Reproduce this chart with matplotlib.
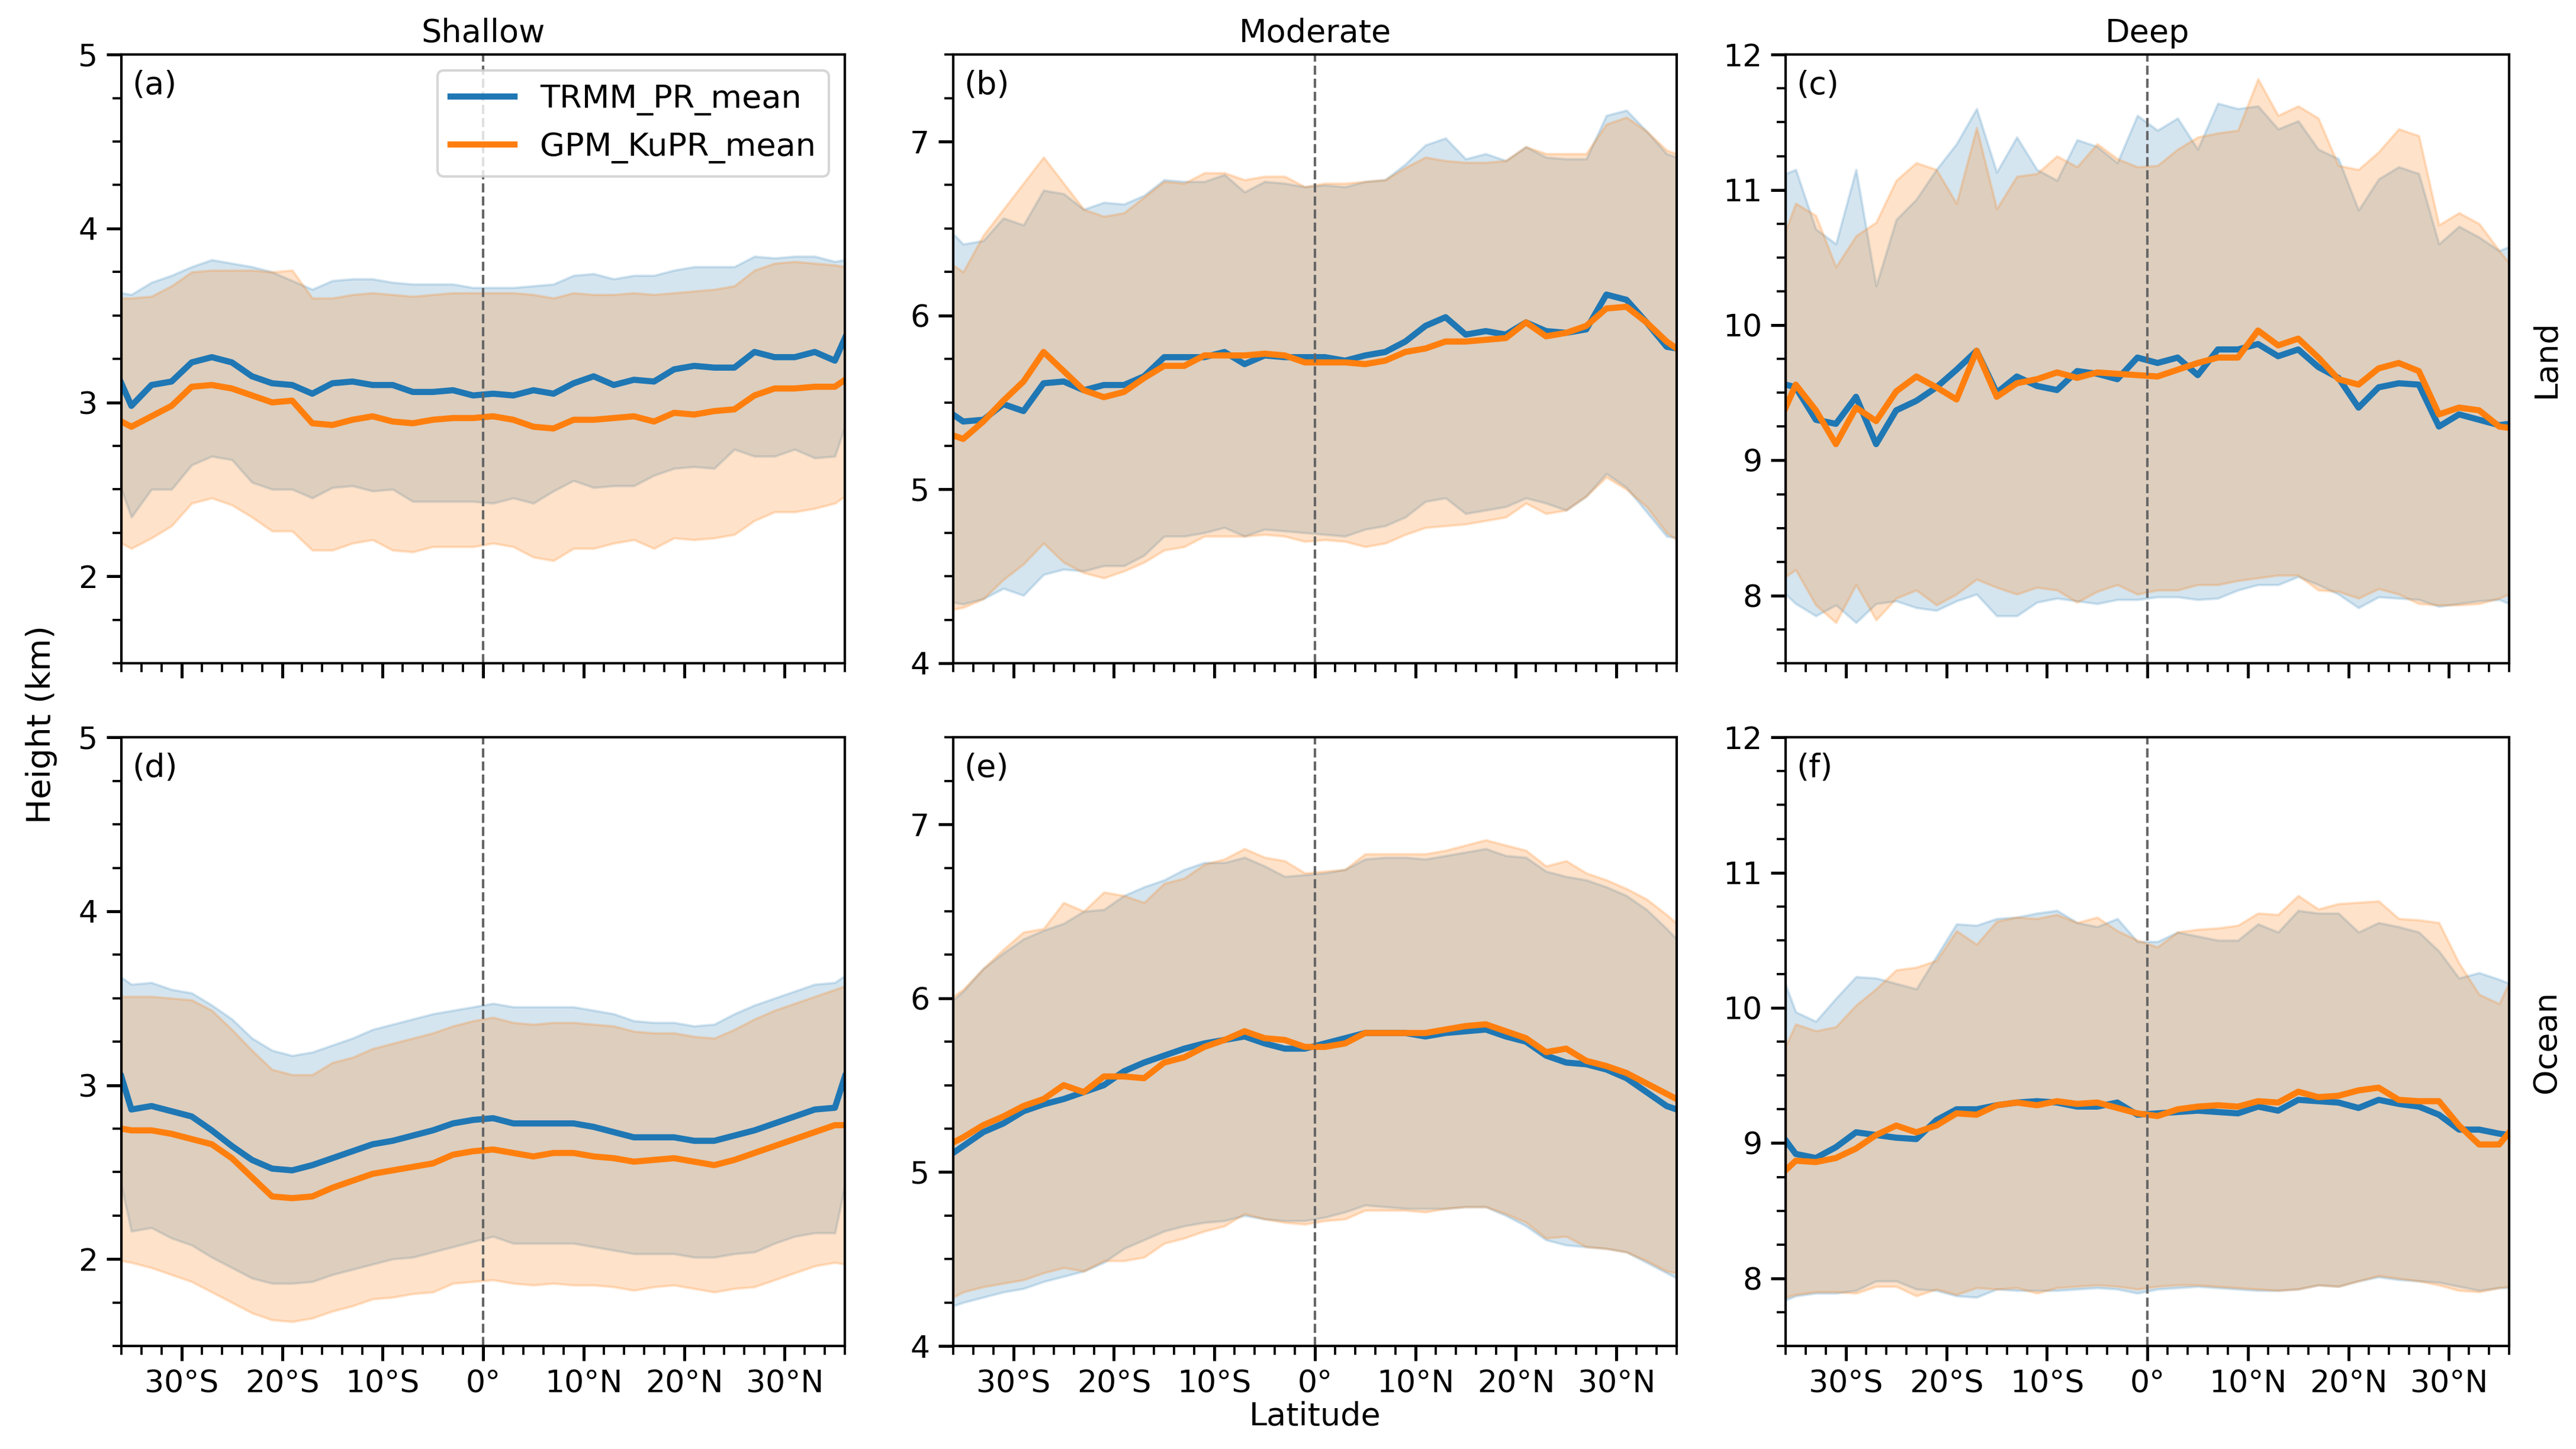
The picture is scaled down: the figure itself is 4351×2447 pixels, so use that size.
import matplotlib
matplotlib.use("Agg")
import matplotlib.pyplot as plt
from matplotlib.ticker import MultipleLocator, FixedLocator

plt.rcParams['font.family'] = ['DejaVu Sans']

# latitude centres (deg), negative = south
lat = [-36, -35, -33, -31, -29, -27, -25, -23, -21, -19, -17, -15, -13, -11, -9, -7, -5, -3, -1,
       1, 3, 5, 7, 9, 11, 13, 15, 17, 19, 21, 23, 25, 27, 29, 31, 33, 35, 36]

# (a) shallow / land
trmm_a_mean = [3.11, 2.98, 3.10, 3.12, 3.23, 3.26, 3.23, 3.15, 3.11, 3.10, 3.05, 3.11, 3.12, 3.10, 3.10, 3.06, 3.06, 3.07, 3.04,
               3.05, 3.04, 3.07, 3.05, 3.11, 3.15, 3.10, 3.13, 3.12, 3.19, 3.21, 3.20, 3.20, 3.29, 3.26, 3.26, 3.29, 3.24, 3.37]
gpm_a_mean = [2.89, 2.86, 2.92, 2.98, 3.09, 3.10, 3.08, 3.04, 3.00, 3.01, 2.88, 2.87, 2.90, 2.92, 2.89, 2.88, 2.90, 2.91, 2.91,
              2.92, 2.90, 2.86, 2.85, 2.90, 2.90, 2.91, 2.92, 2.89, 2.94, 2.93, 2.95, 2.96, 3.04, 3.08, 3.08, 3.09, 3.09, 3.13]
trmm_a_hi = [3.63, 3.62, 3.69, 3.73, 3.78, 3.82, 3.80, 3.78, 3.75, 3.70, 3.65, 3.70, 3.71, 3.71, 3.69, 3.68, 3.68, 3.68, 3.66,
             3.66, 3.66, 3.67, 3.68, 3.73, 3.74, 3.71, 3.73, 3.73, 3.76, 3.78, 3.78, 3.78, 3.84, 3.83, 3.84, 3.84, 3.81, 3.82]
gpm_a_hi = [3.60, 3.60, 3.61, 3.67, 3.75, 3.76, 3.76, 3.76, 3.75, 3.76, 3.60, 3.60, 3.62, 3.63, 3.62, 3.61, 3.62, 3.63, 3.63,
            3.63, 3.63, 3.62, 3.60, 3.63, 3.62, 3.62, 3.63, 3.62, 3.63, 3.64, 3.65, 3.67, 3.76, 3.80, 3.81, 3.80, 3.79, 3.78]
trmm_a_lo = [2.50, 2.34, 2.50, 2.50, 2.64, 2.69, 2.67, 2.54, 2.50, 2.50, 2.45, 2.51, 2.52, 2.49, 2.50, 2.43, 2.43, 2.43, 2.43,
             2.42, 2.45, 2.42, 2.49, 2.55, 2.51, 2.52, 2.52, 2.58, 2.62, 2.63, 2.62, 2.73, 2.69, 2.69, 2.73, 2.68, 2.69, 2.86]
gpm_a_lo = [2.19, 2.16, 2.22, 2.29, 2.42, 2.45, 2.41, 2.34, 2.26, 2.26, 2.15, 2.15, 2.19, 2.21, 2.15, 2.14, 2.17, 2.17, 2.17,
            2.19, 2.17, 2.11, 2.09, 2.16, 2.16, 2.19, 2.21, 2.16, 2.22, 2.21, 2.22, 2.24, 2.32, 2.37, 2.37, 2.39, 2.42, 2.46]

# (b) moderate / land
trmm_b_mean = [5.43, 5.39, 5.40, 5.49, 5.45, 5.61, 5.62, 5.57, 5.60, 5.60, 5.65, 5.76, 5.76, 5.76, 5.79, 5.72, 5.77, 5.76, 5.76,
               5.76, 5.74, 5.77, 5.79, 5.85, 5.94, 5.99, 5.89, 5.91, 5.89, 5.96, 5.91, 5.90, 5.92, 6.12, 6.09, 5.96, 5.82, 5.81]
gpm_b_mean = [5.31, 5.29, 5.39, 5.51, 5.62, 5.79, 5.68, 5.57, 5.53, 5.56, 5.64, 5.71, 5.71, 5.77, 5.77, 5.77, 5.78, 5.77, 5.73,
              5.73, 5.73, 5.72, 5.74, 5.79, 5.81, 5.85, 5.85, 5.86, 5.87, 5.96, 5.88, 5.90, 5.94, 6.04, 6.05, 5.96, 5.85, 5.81]
trmm_b_hi = [6.47, 6.41, 6.43, 6.56, 6.52, 6.72, 6.70, 6.61, 6.65, 6.64, 6.69, 6.78, 6.77, 6.77, 6.81, 6.71, 6.77, 6.76, 6.74,
             6.75, 6.74, 6.77, 6.78, 6.87, 6.98, 7.02, 6.90, 6.93, 6.89, 6.97, 6.91, 6.90, 6.90, 7.15, 7.18, 7.06, 6.93, 6.91]
gpm_b_hi = [6.29, 6.25, 6.46, 6.61, 6.76, 6.91, 6.76, 6.61, 6.57, 6.59, 6.68, 6.77, 6.76, 6.82, 6.82, 6.78, 6.80, 6.80, 6.74,
            6.76, 6.76, 6.77, 6.78, 6.85, 6.91, 6.89, 6.88, 6.88, 6.89, 6.97, 6.93, 6.93, 6.93, 7.10, 7.14, 7.06, 6.95, 6.93]
trmm_b_lo = [4.35, 4.34, 4.37, 4.43, 4.39, 4.51, 4.54, 4.53, 4.56, 4.56, 4.62, 4.73, 4.73, 4.75, 4.78, 4.73, 4.77, 4.76, 4.75,
             4.74, 4.73, 4.77, 4.79, 4.84, 4.93, 4.95, 4.86, 4.88, 4.90, 4.95, 4.92, 4.88, 4.96, 5.09, 5.01, 4.87, 4.73, 4.72]
gpm_b_lo = [4.31, 4.32, 4.37, 4.48, 4.57, 4.69, 4.58, 4.52, 4.49, 4.53, 4.58, 4.65, 4.67, 4.73, 4.73, 4.73, 4.74, 4.73, 4.70,
            4.71, 4.70, 4.67, 4.69, 4.74, 4.78, 4.79, 4.80, 4.82, 4.84, 4.92, 4.86, 4.88, 4.96, 5.07, 5.00, 4.90, 4.75, 4.71]

# (c) deep / land
trmm_c_mean = [9.56, 9.54, 9.30, 9.27, 9.47, 9.12, 9.37, 9.44, 9.54, 9.67, 9.81, 9.50, 9.62, 9.55, 9.52, 9.66, 9.64, 9.60, 9.76,
               9.72, 9.76, 9.63, 9.82, 9.82, 9.86, 9.77, 9.82, 9.69, 9.61, 9.39, 9.54, 9.57, 9.56, 9.25, 9.34, 9.30, 9.26, 9.27]
gpm_c_mean = [9.39, 9.56, 9.37, 9.12, 9.39, 9.29, 9.51, 9.62, 9.54, 9.45, 9.81, 9.47, 9.57, 9.60, 9.65, 9.61, 9.65, 9.64, 9.63,
              9.62, 9.67, 9.72, 9.76, 9.76, 9.96, 9.85, 9.90, 9.76, 9.60, 9.56, 9.68, 9.72, 9.66, 9.34, 9.39, 9.37, 9.25, 9.24]
trmm_c_hi = [11.12, 11.15, 10.71, 10.60, 11.15, 10.29, 10.78, 10.93, 11.15, 11.34, 11.60, 11.13, 11.39, 11.15, 11.07, 11.37, 11.32, 11.20, 11.55,
             11.44, 11.53, 11.30, 11.64, 11.60, 11.62, 11.45, 11.51, 11.30, 11.23, 10.85, 11.08, 11.17, 11.12, 10.60, 10.73, 10.65, 10.55, 10.58]
gpm_c_hi = [10.70, 10.90, 10.81, 10.43, 10.66, 10.76, 11.07, 11.20, 11.15, 10.90, 11.46, 10.86, 11.10, 11.12, 11.25, 11.17, 11.34, 11.23, 11.17,
            11.18, 11.30, 11.39, 11.42, 11.44, 11.82, 11.55, 11.62, 11.53, 11.18, 11.15, 11.28, 11.45, 11.40, 10.74, 10.83, 10.75, 10.55, 10.46]
trmm_c_lo = [8.01, 7.94, 7.85, 7.93, 7.80, 7.94, 7.96, 7.91, 7.89, 7.96, 8.01, 7.85, 7.85, 7.95, 7.98, 7.96, 7.94, 7.97, 7.97,
             7.99, 7.99, 7.97, 7.98, 8.04, 8.08, 8.08, 8.14, 8.08, 8.01, 7.91, 7.99, 7.98, 7.97, 7.92, 7.94, 7.96, 7.97, 7.94]
gpm_c_lo = [8.14, 8.19, 7.93, 7.80, 8.08, 7.82, 7.98, 8.04, 7.93, 8.01, 8.12, 8.06, 8.01, 8.06, 8.04, 7.95, 8.03, 8.08, 8.01,
            8.04, 8.04, 8.08, 8.08, 8.11, 8.13, 8.15, 8.15, 8.04, 8.03, 7.98, 8.05, 8.01, 7.94, 7.93, 7.93, 7.94, 7.98, 8.01]

# (d) shallow / ocean
trmm_d_mean = [3.05, 2.86, 2.88, 2.85, 2.82, 2.74, 2.65, 2.57, 2.52, 2.51, 2.54, 2.58, 2.62, 2.66, 2.68, 2.71, 2.74, 2.78, 2.80,
               2.81, 2.78, 2.78, 2.78, 2.78, 2.76, 2.73, 2.70, 2.70, 2.70, 2.68, 2.68, 2.71, 2.74, 2.78, 2.82, 2.86, 2.87, 3.05]
gpm_d_mean = [2.75, 2.74, 2.74, 2.72, 2.69, 2.66, 2.58, 2.47, 2.36, 2.35, 2.36, 2.41, 2.45, 2.49, 2.51, 2.53, 2.55, 2.60, 2.62,
              2.63, 2.61, 2.59, 2.61, 2.61, 2.59, 2.58, 2.56, 2.57, 2.58, 2.56, 2.54, 2.57, 2.61, 2.65, 2.69, 2.73, 2.77, 2.77]
trmm_d_hi = [3.62, 3.58, 3.59, 3.55, 3.53, 3.46, 3.38, 3.27, 3.20, 3.17, 3.19, 3.23, 3.27, 3.32, 3.35, 3.38, 3.41, 3.43, 3.45,
             3.47, 3.45, 3.45, 3.45, 3.45, 3.43, 3.41, 3.37, 3.36, 3.36, 3.34, 3.35, 3.41, 3.46, 3.50, 3.54, 3.58, 3.59, 3.63]
gpm_d_hi = [3.51, 3.51, 3.51, 3.50, 3.49, 3.43, 3.32, 3.20, 3.09, 3.06, 3.06, 3.13, 3.16, 3.21, 3.24, 3.27, 3.30, 3.34, 3.37,
            3.39, 3.36, 3.35, 3.36, 3.36, 3.35, 3.34, 3.31, 3.30, 3.30, 3.28, 3.27, 3.32, 3.38, 3.43, 3.47, 3.51, 3.55, 3.57]
trmm_d_lo = [2.42, 2.16, 2.18, 2.12, 2.08, 2.01, 1.95, 1.89, 1.86, 1.86, 1.87, 1.91, 1.94, 1.97, 2.00, 2.01, 2.04, 2.07, 2.10,
             2.13, 2.09, 2.09, 2.09, 2.09, 2.07, 2.05, 2.03, 2.03, 2.03, 2.01, 2.01, 2.03, 2.04, 2.09, 2.13, 2.15, 2.15, 2.42]
gpm_d_lo = [1.99, 1.98, 1.95, 1.91, 1.87, 1.81, 1.75, 1.69, 1.65, 1.64, 1.66, 1.70, 1.73, 1.77, 1.78, 1.80, 1.81, 1.86, 1.87,
            1.88, 1.86, 1.85, 1.86, 1.85, 1.85, 1.84, 1.82, 1.84, 1.85, 1.83, 1.81, 1.83, 1.84, 1.88, 1.92, 1.96, 1.98, 1.97]

# (e) moderate / ocean
trmm_e_mean = [5.11, 5.15, 5.23, 5.28, 5.35, 5.39, 5.42, 5.46, 5.50, 5.58, 5.63, 5.67, 5.71, 5.74, 5.76, 5.78, 5.74, 5.71, 5.71,
               5.74, 5.77, 5.80, 5.80, 5.80, 5.78, 5.80, 5.81, 5.82, 5.78, 5.75, 5.67, 5.63, 5.62, 5.59, 5.54, 5.46, 5.38, 5.36]
gpm_e_mean = [5.17, 5.20, 5.27, 5.32, 5.38, 5.42, 5.50, 5.46, 5.55, 5.55, 5.54, 5.63, 5.66, 5.72, 5.76, 5.81, 5.77, 5.76, 5.72,
              5.72, 5.74, 5.80, 5.80, 5.80, 5.80, 5.82, 5.84, 5.85, 5.81, 5.77, 5.69, 5.71, 5.64, 5.61, 5.57, 5.51, 5.45, 5.42]
trmm_e_hi = [5.99, 6.04, 6.17, 6.26, 6.34, 6.39, 6.43, 6.50, 6.51, 6.59, 6.64, 6.68, 6.74, 6.78, 6.78, 6.81, 6.76, 6.70, 6.71,
             6.72, 6.74, 6.80, 6.81, 6.81, 6.80, 6.82, 6.84, 6.86, 6.82, 6.81, 6.73, 6.70, 6.68, 6.64, 6.59, 6.51, 6.40, 6.34]
gpm_e_hi = [6.01, 6.05, 6.17, 6.28, 6.38, 6.40, 6.55, 6.50, 6.61, 6.59, 6.55, 6.66, 6.69, 6.77, 6.80, 6.86, 6.81, 6.79, 6.72,
            6.73, 6.74, 6.83, 6.83, 6.83, 6.83, 6.85, 6.88, 6.91, 6.88, 6.85, 6.76, 6.79, 6.72, 6.68, 6.63, 6.57, 6.48, 6.43]
trmm_e_lo = [4.23, 4.25, 4.28, 4.31, 4.33, 4.37, 4.40, 4.43, 4.48, 4.56, 4.61, 4.66, 4.69, 4.71, 4.72, 4.75, 4.73, 4.72, 4.72,
             4.74, 4.77, 4.81, 4.80, 4.79, 4.79, 4.79, 4.80, 4.80, 4.75, 4.69, 4.61, 4.58, 4.57, 4.56, 4.54, 4.48, 4.42, 4.39]
gpm_e_lo = [4.28, 4.31, 4.34, 4.36, 4.38, 4.42, 4.45, 4.43, 4.49, 4.49, 4.51, 4.59, 4.62, 4.66, 4.69, 4.76, 4.73, 4.71, 4.70,
            4.72, 4.73, 4.78, 4.78, 4.78, 4.77, 4.79, 4.80, 4.80, 4.76, 4.71, 4.62, 4.63, 4.57, 4.56, 4.54, 4.49, 4.43, 4.42]

# (f) deep / ocean
trmm_f_mean = [9.02, 8.92, 8.89, 8.97, 9.08, 9.06, 9.04, 9.03, 9.17, 9.25, 9.25, 9.28, 9.30, 9.31, 9.30, 9.27, 9.27, 9.30, 9.21,
               9.22, 9.23, 9.24, 9.23, 9.22, 9.27, 9.24, 9.32, 9.31, 9.30, 9.26, 9.32, 9.29, 9.27, 9.21, 9.10, 9.10, 9.07, 9.06]
gpm_f_mean = [8.80, 8.87, 8.86, 8.89, 8.96, 9.06, 9.13, 9.08, 9.13, 9.22, 9.21, 9.28, 9.30, 9.28, 9.31, 9.29, 9.30, 9.26, 9.22,
              9.20, 9.25, 9.27, 9.28, 9.27, 9.31, 9.30, 9.38, 9.34, 9.35, 9.39, 9.41, 9.32, 9.31, 9.31, 9.13, 8.99, 8.99, 9.08]
trmm_f_hi = [10.17, 9.97, 9.90, 10.07, 10.23, 10.22, 10.18, 10.14, 10.38, 10.62, 10.61, 10.66, 10.67, 10.70, 10.72, 10.63, 10.60, 10.66, 10.49,
             10.49, 10.56, 10.53, 10.50, 10.50, 10.62, 10.56, 10.72, 10.70, 10.70, 10.56, 10.63, 10.60, 10.56, 10.42, 10.22, 10.26, 10.21, 10.18]
gpm_f_hi = [9.72, 9.88, 9.83, 9.86, 10.02, 10.14, 10.28, 10.30, 10.35, 10.57, 10.47, 10.64, 10.67, 10.66, 10.69, 10.63, 10.67, 10.57, 10.50,
            10.45, 10.56, 10.58, 10.59, 10.61, 10.70, 10.69, 10.83, 10.73, 10.77, 10.78, 10.79, 10.66, 10.65, 10.63, 10.33, 10.10, 10.03, 10.19]
trmm_f_lo = [7.84, 7.87, 7.89, 7.89, 7.91, 7.98, 7.98, 7.92, 7.91, 7.87, 7.86, 7.92, 7.91, 7.91, 7.91, 7.92, 7.93, 7.92, 7.89,
             7.92, 7.93, 7.94, 7.93, 7.92, 7.91, 7.91, 7.92, 7.95, 7.94, 7.98, 8.01, 7.99, 7.98, 7.97, 7.94, 7.91, 7.93, 7.93]
gpm_f_lo = [7.86, 7.88, 7.90, 7.90, 7.89, 7.94, 7.94, 7.87, 7.92, 7.88, 7.93, 7.92, 7.93, 7.89, 7.93, 7.94, 7.95, 7.94, 7.92,
            7.94, 7.95, 7.95, 7.94, 7.93, 7.92, 7.91, 7.92, 7.95, 7.94, 7.98, 8.02, 8.00, 7.98, 7.95, 7.91, 7.90, 7.93, 7.94]

col_titles = ["Shallow", "Moderate", "Deep"]
row_names = ["Land", "Ocean"]
xtick_vals = [-30, -20, -10, 0, 10, 20, 30]
xtick_labels = ["30°S", "20°S", "10°S", "0°", "10°N", "20°N", "30°N"]

c_trmm = "#1f77b4"
c_gpm = "#ff7f0e"

panels = [
    ("(a)", (1.5, 5), trmm_a_mean, trmm_a_lo, trmm_a_hi, gpm_a_mean, gpm_a_lo, gpm_a_hi),
    ("(b)", (4, 7.5), trmm_b_mean, trmm_b_lo, trmm_b_hi, gpm_b_mean, gpm_b_lo, gpm_b_hi),
    ("(c)", (7.5, 12), trmm_c_mean, trmm_c_lo, trmm_c_hi, gpm_c_mean, gpm_c_lo, gpm_c_hi),
    ("(d)", (1.5, 5), trmm_d_mean, trmm_d_lo, trmm_d_hi, gpm_d_mean, gpm_d_lo, gpm_d_hi),
    ("(e)", (4, 7.5), trmm_e_mean, trmm_e_lo, trmm_e_hi, gpm_e_mean, gpm_e_lo, gpm_e_hi),
    ("(f)", (7.5, 12), trmm_f_mean, trmm_f_lo, trmm_f_hi, gpm_f_mean, gpm_f_lo, gpm_f_hi),
]

fig = plt.figure(figsize=(4351 / 300, 2447 / 300), dpi=300)

lefts = [0.0471, 0.3700, 0.6932]
bottoms = [0.5423, 0.0711]
w, h = 0.2809, 0.4200

for i, (tag, ylim, tm, tlo, thi, gm, glo, ghi) in enumerate(panels):
    r, c = divmod(i, 3)
    ax = fig.add_axes([lefts[c], bottoms[r], w, h])

    ax.fill_between(lat, tlo, thi, color=c_trmm, alpha=0.19, linewidth=1)
    ax.fill_between(lat, glo, ghi, color=c_gpm, alpha=0.22, linewidth=1)
    ax.plot(lat, tm, color=c_trmm, lw=2.5, label="TRMM_PR_mean")
    ax.plot(lat, gm, color=c_gpm, lw=2.5, label="GPM_KuPR_mean")
    ax.axvline(0, color="0.4", ls="--", lw=1.0)

    ax.set_xlim(-36, 36)
    ax.set_ylim(*ylim)
    ax.xaxis.set_major_locator(FixedLocator(xtick_vals))
    ax.xaxis.set_minor_locator(MultipleLocator(2))
    ax.yaxis.set_major_locator(MultipleLocator(1))
    ax.yaxis.set_minor_locator(MultipleLocator(0.25))
    ax.tick_params(which="major", direction="out", length=6, width=1.2, labelsize=12.5)
    ax.tick_params(which="minor", direction="out", length=3.5, width=0.9)
    for sp in ax.spines.values():
        sp.set_linewidth(1.0)

    if r == 1:
        ax.set_xticklabels(xtick_labels)
    else:
        ax.set_xticklabels([])
        ax.set_title(col_titles[c], fontsize=13, pad=5)

    ax.text(0.015, 0.975, tag, transform=ax.transAxes, ha="left", va="top", fontsize=13)

    if c == 2:
        ax.text(1.03, 0.5, row_names[r], transform=ax.transAxes, rotation=90,
                ha="left", va="center", fontsize=13)

    if i == 0:
        ax.legend(loc="upper right", fontsize=13)

fig.text(0.016, 0.5, "Height (km)", rotation=90, ha="center", va="center", fontsize=13.5)
fig.text(0.5105, 0.0225, "Latitude", ha="center", va="center", fontsize=13)

fig.savefig("out.png", dpi=300)
